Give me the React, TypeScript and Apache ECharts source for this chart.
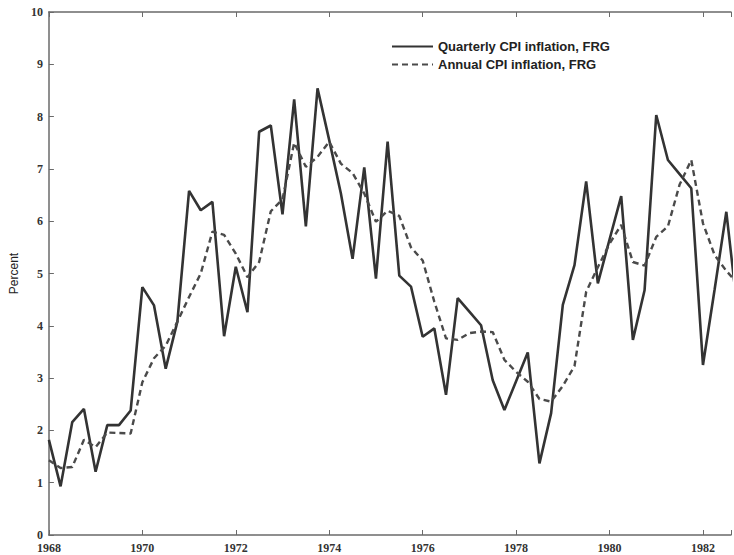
import React, { useEffect, useRef } from "react";
import * as echarts from "echarts";

const startYear = 1968;
const quartersPerYear = 4;

const quarterly = [
  1.82, 0.93, 2.16, 2.41, 1.21, 2.1, 2.1, 2.38, 4.74, 4.39, 3.18, 4.08,
  6.58, 6.21, 6.37, 3.8, 5.13, 4.26, 7.71, 7.83, 6.13, 8.33, 5.9, 8.54,
  7.55, 6.53, 5.28, 7.03, 4.9, 7.52, 4.96, 4.75, 3.79, 3.95, 2.68, 4.53,
  4.27, 4.01, 2.96, 2.39, 2.94, 3.49, 1.37, 2.33, 4.4, 5.16, 6.76, 4.81,
  5.65, 6.48, 3.73, 4.68, 8.03, 7.17, 6.9, 6.63, 3.25, 4.7, 6.18, 4.2,
];

const annual = [
  1.43, 1.28, 1.3, 1.82, 1.68, 1.96, 1.95, 1.94, 2.92, 3.38, 3.62, 4.08,
  4.55, 5.0, 5.8, 5.74, 5.38, 4.93, 5.22, 6.19, 6.42, 7.5, 7.04, 7.23,
  7.52, 7.1, 6.92, 6.53, 5.99, 6.2, 6.1, 5.5, 5.25, 4.46, 3.76, 3.73,
  3.86, 3.89, 3.88, 3.35, 3.12, 2.93, 2.6, 2.55, 2.85, 3.23, 4.65, 5.12,
  5.57, 5.93, 5.22, 5.15, 5.7, 5.9, 6.7, 7.17, 5.96, 5.35, 5.05, 4.8,
];

const yearTicks = [1968, 1970, 1972, 1974, 1976, 1978, 1980, 1982];

const seriesNames = ["Quarterly CPI inflation, FRG", "Annual CPI inflation, FRG"];

const toPoints = (vals: number[]) =>
  vals.map((v, i) => [startYear + i / quartersPerYear, v]);

export default function App() {
  const ref = useRef<HTMLDivElement>(null);
  useEffect(() => {
    if (!ref.current) return;
    const chart = echarts.init(ref.current, undefined, { renderer: "svg" });
    const axisColor = "#6a6a6a";
    const labelFont = {
      fontFamily: "Liberation Serif",
      fontSize: 12,
      fontWeight: "bold" as const,
      color: "#333",
    };
    chart.setOption({
      animation: false,
      backgroundColor: "#fff",
      grid: { left: 45, top: 12, right: 0, bottom: 20, containLabel: false },
      legend: {
        orient: "vertical",
        left: 386,
        top: 35,
        itemWidth: 41,
        itemHeight: 10,
        itemGap: 5,
        data: seriesNames,
        itemStyle: { opacity: 0 },
        textStyle: {
          fontFamily: "Liberation Sans",
          fontWeight: "bold",
          fontSize: 13,
          color: "#222",
        },
      },
      xAxis: [
        {
          type: "value",
          min: 1968,
          max: 1982.6,
          interval: 2,
          position: "bottom",
          splitLine: { show: false },
          axisLine: { show: true, lineStyle: { color: axisColor, width: 1.5 } },
          axisTick: { show: true, inside: true, length: 5, lineStyle: { color: axisColor } },
          axisLabel: {
            ...labelFont,
            margin: 7,
            formatter: (v: number) => (yearTicks.includes(v) ? String(v) : ""),
          },
        },
        {
          type: "value",
          min: 1968,
          max: 1982.6,
          interval: 2,
          position: "top",
          splitLine: { show: false },
          axisLine: { show: true, lineStyle: { color: axisColor, width: 1.5 } },
          axisTick: { show: true, inside: true, length: 5, lineStyle: { color: axisColor } },
          axisLabel: { show: false },
        },
      ],
      yAxis: {
        type: "value",
        min: 0,
        max: 10,
        interval: 1,
        name: "Percent",
        nameLocation: "middle",
        nameGap: 26,
        nameRotate: 90,
        nameTextStyle: { fontFamily: "Liberation Sans", fontSize: 12, color: "#222" },
        splitLine: { show: false },
        axisLine: { show: true, lineStyle: { color: axisColor, width: 1.5 } },
        axisTick: { show: true, inside: true, length: 5, lineStyle: { color: axisColor } },
        axisLabel: { ...labelFont, margin: 6 },
      },
      series: [
        {
          name: seriesNames[0],
          type: "line",
          xAxisIndex: 0,
          data: toPoints(quarterly),
          symbol: "none",
          clip: true,
          lineStyle: { color: "#333", width: 2.6, type: "solid" },
          itemStyle: { color: "#333" },
        },
        {
          name: seriesNames[1],
          type: "line",
          xAxisIndex: 0,
          data: toPoints(annual),
          symbol: "none",
          clip: true,
          lineStyle: { color: "#4a4a4a", width: 2.4, type: [6, 4] },
          itemStyle: { color: "#4a4a4a" },
        },
      ],
    });
    return () => chart.dispose();
  }, []);
  return (
    <div
      ref={ref}
      style={{ position: "absolute", left: 0, top: 0, width: 734, height: 555 }}
    />
  );
}
